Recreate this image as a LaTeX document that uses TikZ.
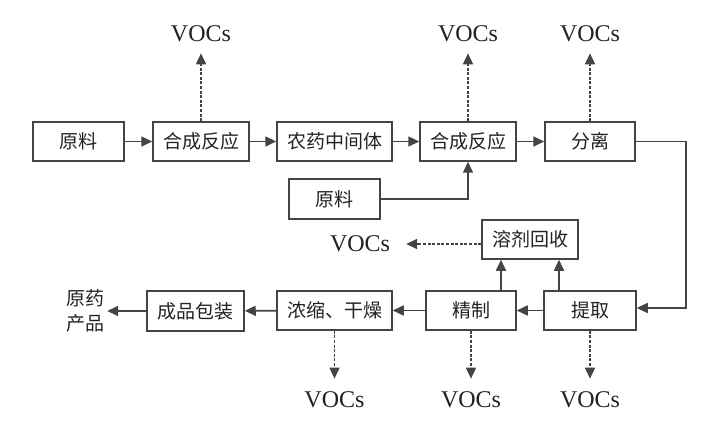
\documentclass[tikz,border=0pt]{standalone}
\usepackage{fontspec}
\setmainfont{Liberation Serif}
\newfontfamily\cjk{Noto Sans CJK SC}
\usetikzlibrary{arrows.meta}
\definecolor{linec}{HTML}{444444}
\definecolor{textc}{HTML}{222222}
\begin{document}
\begin{tikzpicture}[x=1pt,y=-1pt,
  box/.style={draw=linec,line width=1.5pt,minimum height=39pt,inner sep=0pt,text=textc,font=\cjk\fontsize{19}{22}\selectfont},
  voc/.style={inner sep=0pt,text=textc,font=\fontsize{24}{26}\selectfont},
  arr/.style={draw=linec,line width=1.6pt,-{Triangle[length=11pt,width=10pt]}},
  darr/.style={arr,dash pattern=on 3pt off 1.6pt}]
\useasboundingbox[fill=white] (0,0) rectangle (722,422);
% top row
\node[box,minimum width=91pt] (raw1) at (78.5,141.5) {原料};
\node[box,minimum width=96pt] (syn1) at (201,141.5) {合成反应};
\node[box,minimum width=115pt] (mid) at (334.5,141.5) {农药中间体};
\node[box,minimum width=91pt,minimum height=40pt] (raw2) at (334.5,199) {原料};
\node[box,minimum width=96pt] (syn2) at (468,141.5) {合成反应};
\node[box,minimum width=90pt] (sep) at (590,141.5) {分离};
% bottom
\node[box,minimum width=96pt] (solv) at (530,239.5) {溶剂回收};
\node[box,minimum width=97pt,minimum height=40pt] (pack) at (195.5,311) {成品包装};
\node[box,minimum width=115pt] (conc) at (334.5,310.5) {浓缩、干燥};
\node[box,minimum width=90pt] (refine) at (471,310.5) {精制};
\node[box,minimum width=92pt] (extr) at (590,310.5) {提取};
\node[inner sep=0pt,text=textc,align=center,font=\cjk\fontsize{19}{25}\selectfont] (prod) at (85,311) {原药\\产品};
% VOCs
\node[voc] (v1) at (201,34) {VOCs};
\node[voc] (v2) at (468,34) {VOCs};
\node[voc] (v3) at (590,34) {VOCs};
\node[voc] (v4) at (360,244) {VOCs};
\node[voc] (v5) at (334.5,400) {VOCs};
\node[voc] (v6) at (471,400) {VOCs};
\node[voc] (v7) at (590,400) {VOCs};
% main flow
\draw[arr] (raw1) -- (syn1);
\draw[arr] (syn1) -- (mid);
\draw[arr] (mid) -- (syn2);
\draw[arr] (syn2) -- (sep);
\draw[arr] (raw2.east) -| (syn2.south);
\coordinate (c1) at (686,141.5);
\coordinate (c2) at (686,308);
\draw[arr] (sep.east) -- (c1) -- (c2) -- (c2 -| extr.east);
\draw[arr] (extr) -- (refine);
\draw[arr] (refine) -- (conc);
\draw[arr] (conc) -- (pack);
\draw[arr,shorten >=3pt] (pack.west) -- (prod.east);
\draw[arr] ([xshift=30pt]refine.north) -- ([xshift=30pt]refine.north |- solv.south);
\draw[arr] ([xshift=-31pt]extr.north) -- ([xshift=-31pt]extr.north |- solv.south);
% VOC emissions
\draw[darr,shorten >=11pt] (syn1.north) -- (v1.south);
\draw[darr,shorten >=11pt] (syn2.north) -- (v2.south);
\draw[darr,shorten >=11pt] (sep.north) -- (v3.south);
\draw[darr,shorten >=16pt] (solv.west |- v4) -- (v4.east);
\draw[darr,shorten >=13pt] (conc.south) -- (v5.north);
\draw[darr,shorten >=13pt] (refine.south) -- (v6.north);
\draw[darr,shorten >=13pt] (extr.south) -- (v7.north);
\end{tikzpicture}
\end{document}
